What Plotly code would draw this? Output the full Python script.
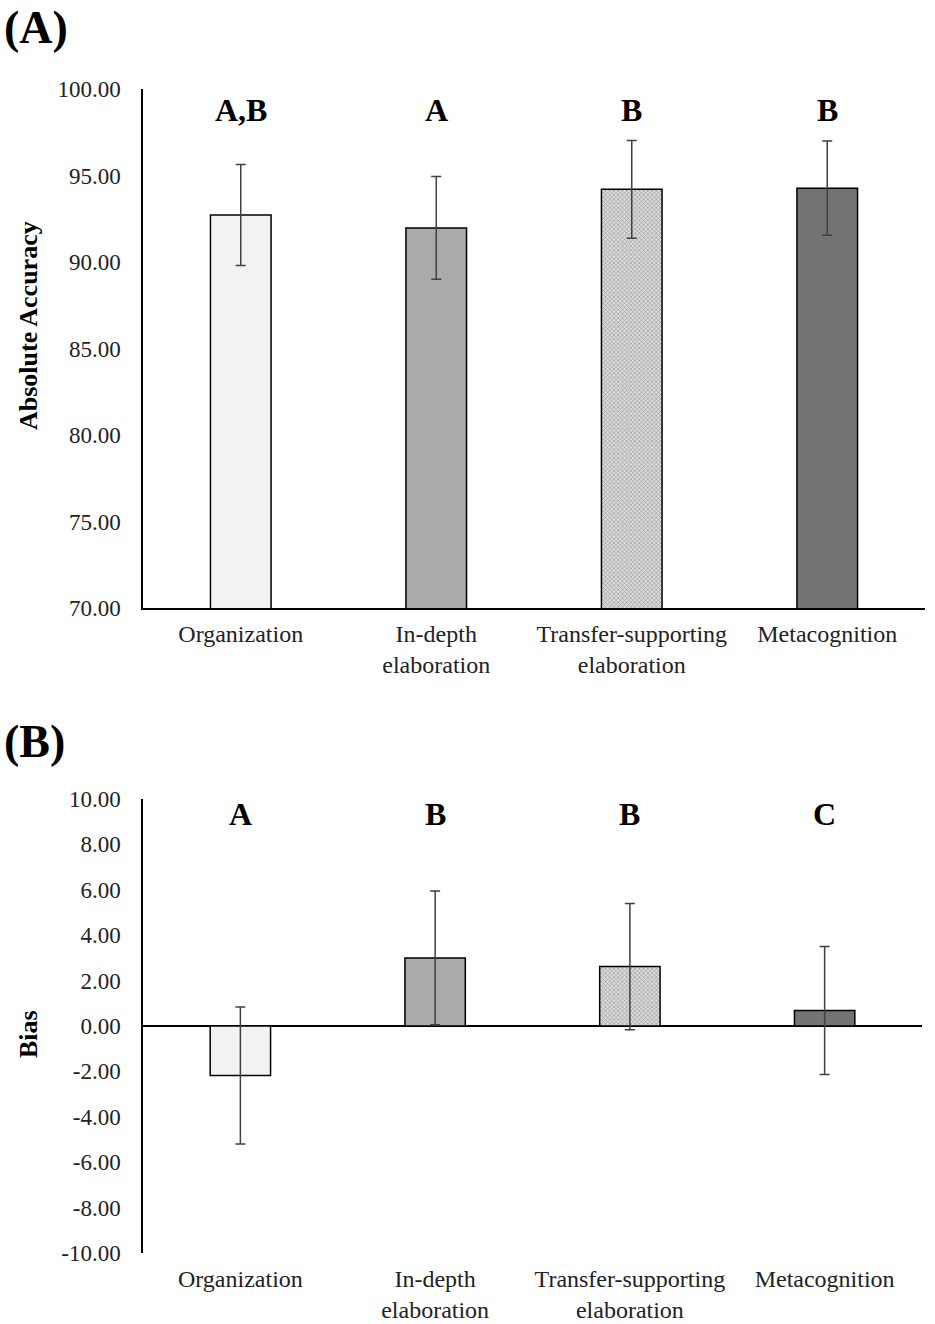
import plotly.graph_objects as go

categories = ["Organization", "In-depth<br>elaboration",
              "Transfer-supporting<br>elaboration", "Metacognition"]

accuracy = [92.72, 91.97, 94.20, 94.27]
accuracy_err = [2.92, 2.97, 2.82, 2.72]
accuracy_letters = ["A,B", "A", "B", "B"]

bias = [-2.18, 3.00, 2.62, 0.68]
bias_err = [3.02, 2.95, 2.78, 2.82]
bias_letters = ["A", "B", "B", "C"]

acc_ticks = [70, 75, 80, 85, 90, 95, 100]
acc_ticktext = ["70.00", "75.00", "80.00", "85.00", "90.00", "95.00", "100.00"]
bias_ticks = [-10, -8, -6, -4, -2, 0, 2, 4, 6, 8, 10]
bias_ticktext = ["-10.00", "-8.00", "-6.00", "-4.00", "-2.00", "0.00",
                 "2.00", "4.00", "6.00", "8.00", "10.00"]

colors = ["#f2f2f2", "#aaaaaa", "#dcdcdc", "#737373"]
patterns = ["", "", "x", ""]

FONT = "Liberation Serif, Times New Roman, serif"
W, H = 935, 1324

fig = go.Figure()


def add_panel(vals, errs, xa, ya):
    fig.add_trace(go.Bar(
        x=categories, y=vals, xaxis=xa, yaxis=ya,
        marker=dict(color=colors, line=dict(color="black", width=1.5),
                    pattern=dict(shape=patterns, fgcolor="#7a7a7a",
                                 bgcolor="#e6e6e6", size=3, solidity=0.35)),
        error_y=dict(type="data", array=errs, color="#404040",
                     thickness=1.5, width=5),
        showlegend=False))


add_panel(accuracy, accuracy_err, "x", "y")
add_panel(bias, bias_err, "x2", "y2")

ytick_font = dict(family=FONT, size=23, color="#222")
xtick_font = dict(family=FONT, size=24, color="#222")

fig.update_layout(
    width=W, height=H,
    margin=dict(l=0, r=0, t=0, b=0, autoexpand=False),
    paper_bgcolor="white", plot_bgcolor="white",
    bargap=0.69,
    font=dict(family=FONT, color="black"),
    xaxis=dict(domain=[143 / W, 925 / W], anchor="y", showline=True,
               linecolor="black", linewidth=1.5, tickfont=xtick_font,
               ticks="", ticklabelstandoff=3, automargin=False),
    yaxis=dict(domain=[1 - 608 / H, 1 - 89 / H], anchor="x", range=[70, 100],
               tickvals=acc_ticks, ticktext=acc_ticktext, showline=True,
               linecolor="black", linewidth=1.5, showgrid=False,
               zeroline=False, tickfont=ytick_font, ticklabelstandoff=16,
               automargin=False),
    xaxis2=dict(domain=[143 / W, 922 / W], anchor="y2", showline=False,
                tickfont=xtick_font, ticks="", ticklabelstandoff=9,
                automargin=False),
    yaxis2=dict(domain=[1 - 1253 / H, 1 - 799 / H], anchor="x2",
                range=[-10, 10], tickvals=bias_ticks, ticktext=bias_ticktext,
                showline=True, linecolor="black", linewidth=1.5,
                showgrid=False, zeroline=True, zerolinecolor="black",
                zerolinewidth=1.5, tickfont=ytick_font, ticklabelstandoff=16,
                automargin=False),
)

letter_font = dict(family=FONT, size=32, color="black")
for cat, lab in zip(categories, accuracy_letters):
    fig.add_annotation(x=cat, y=98.8, xref="x", yref="y", text=f"<b>{lab}</b>",
                       showarrow=False, font=letter_font)
for cat, lab in zip(categories, bias_letters):
    fig.add_annotation(x=cat, y=9.35, xref="x2", yref="y2", text=f"<b>{lab}</b>",
                       showarrow=False, font=letter_font)

# panel tags
fig.add_annotation(x=2 / W, y=1, xref="paper", yref="paper",
                   text="<b>(A)</b>", showarrow=False, xanchor="left",
                   yanchor="top", font=dict(family=FONT, size=46))
fig.add_annotation(x=2 / W, y=1 - 741 / H, xref="paper", yref="paper",
                   text="<b>(B)</b>", showarrow=False, xanchor="left",
                   yanchor="middle", font=dict(family=FONT, size=46))

# y axis titles
for txt, ypix in [("Absolute Accuracy", 326), ("Bias", 1034)]:
    fig.add_annotation(x=28 / W, y=1 - ypix / H, xref="paper", yref="paper",
                       text=f"<b>{txt}</b>", showarrow=False, textangle=-90,
                       xanchor="center", yanchor="middle",
                       font=dict(family=FONT, size=26))

fig.write_html(
    "out.html",
    config={"displayModeBar": False},
    post_script="document.body.style.margin='0';"
                "document.documentElement.style.overflow='hidden';",
)
